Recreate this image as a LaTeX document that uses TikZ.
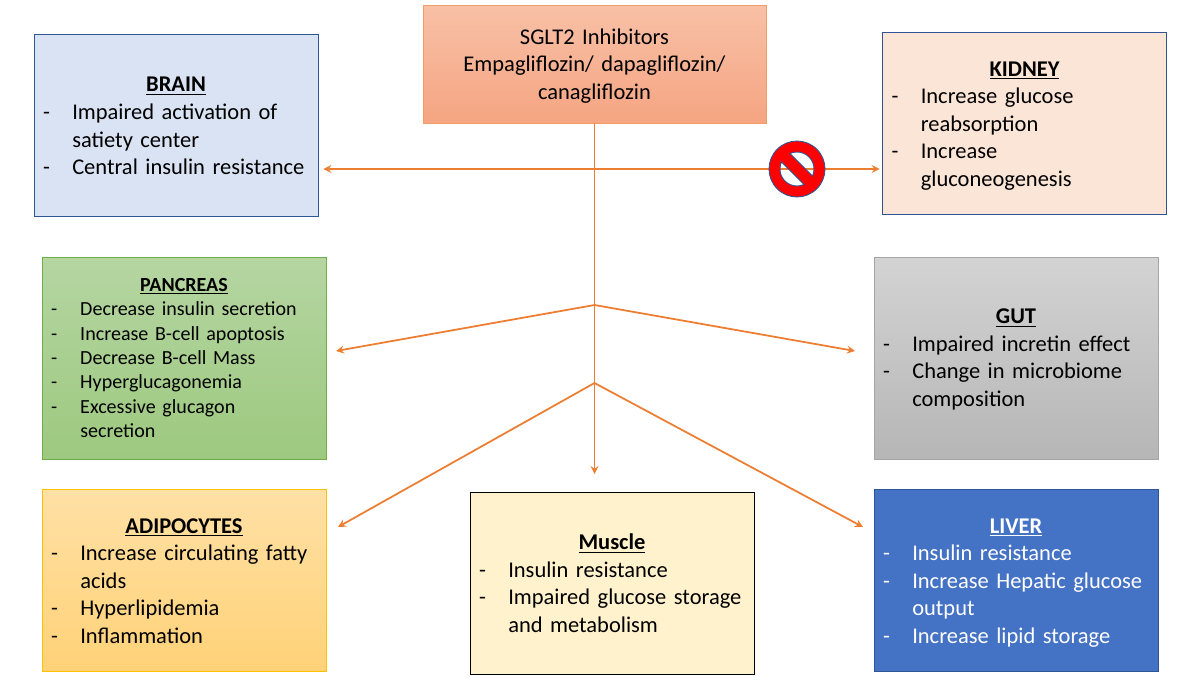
\documentclass[tikz,border=0pt]{standalone}
\usepackage{fontspec}
\setmainfont{Carlito}
\usepackage{tikz}
\newcommand{\organhead}[1]{{\centering\textbf{\underline{#1}}\par}}
\newcommand{\organitem}[1]{\par\hangindent=0.585cm\hangafter=1\noindent\makebox[0.585cm][l]{-}#1\par}
\newcommand{\pushdown}[2]{\vbox{\vskip#1\relax #2}}
\definecolor{arrowcol}{HTML}{ED7D31}
\definecolor{signblue}{HTML}{2F5597}
\tikzset{
  organ/.style={draw,rectangle,line width=0.5pt,minimum width=5.68cm,minimum height=3.64cm,
    inner xsep=0.18cm,inner ysep=0pt,text width=5.32cm,align=left,font=\fontsize{12.8}{15.7}\selectfont},
  link/.style={draw=arrowcol,line width=1pt}
}
\begin{document}
\begin{tikzpicture}[>=stealth, x=0.02cm, y=-0.02cm]
\useasboundingbox (0,0) rectangle (1200,677);
% top box and organ boxes
\node[draw=arrowcol!75,line width=0.5pt,rectangle,top color={rgb,255:red,248;green,192;blue,166},bottom color={rgb,255:red,245;green,165;blue,130},minimum width=6.86cm,minimum height=2.36cm,text width=6.5cm,align=center,font=\fontsize{12.8}{15.7}\selectfont] (sglt) at (594.5,64) {\pushdown{0.08cm}{SGLT2 Inhibitors\par Empagliflozin/ dapagliflozin/\par canagliflozin}};
\node[organ,draw=signblue,fill={rgb,255:red,218;green,227;blue,243}] (brain) at (176,125) {\pushdown{0.04cm}{\organhead{BRAIN}\organitem{Impaired activation of\newline satiety center}\organitem{Central insulin resistance}}};
\node[organ,draw=signblue,fill={rgb,255:red,251;green,229;blue,214}] (kidney) at (1024.5,123) {\pushdown{0.12cm}{\organhead{KIDNEY}\organitem{Increase glucose\newline reabsorption}\organitem{Increase\newline gluconeogenesis}}};
\node[organ,minimum height=4.04cm,draw={rgb,255:red,112;green,173;blue,71},top color={rgb,255:red,181;green,213;blue,162},bottom color={rgb,255:red,157;green,201;blue,127},font=\fontsize{11.4}{13.9}\selectfont] (pancreas) at (184,358) {\organhead{PANCREAS}\organitem{Decrease insulin secretion}\organitem{Increase B-cell apoptosis}\organitem{Decrease B-cell Mass}\organitem{Hyperglucagonemia}\organitem{Excessive glucagon\newline secretion}};
\node[organ,minimum height=4.04cm,draw={rgb,255:red,165;green,165;blue,165},top color={rgb,255:red,211;green,211;blue,211},bottom color={rgb,255:red,182;green,182;blue,182}] (gut) at (1016,358) {\pushdown{0.06cm}{\organhead{GUT}\organitem{Impaired incretin effect}\organitem{Change in microbiome\newline composition}}};
\node[organ,draw={rgb,255:red,255;green,192;blue,0},top color={rgb,255:red,255;green,224;blue,165},bottom color={rgb,255:red,255;green,210;blue,120}] (adipo) at (184,580) {\pushdown{0.04cm}{\organhead{ADIPOCYTES}\organitem{Increase circulating fatty\newline acids}\organitem{Hyperlipidemia}\organitem{Inflammation}}};
\node[organ,draw=black,fill={rgb,255:red,255;green,242;blue,204}] (muscle) at (612,583) {\organhead{Muscle}\organitem{Insulin resistance}\organitem{Impaired glucose storage\newline and metabolism}};
\node[organ,draw=signblue,fill={rgb,255:red,68;green,114;blue,196},text=white] (liver) at (1016,580) {\pushdown{0.12cm}{\organhead{LIVER}\organitem{Insulin resistance}\organitem{Increase Hepatic glucose\newline output}\organitem{Increase lipid storage}}};
% connectors
\coordinate (hubtop) at (sglt.south |- 0,169);
\coordinate (hubmid) at (sglt.south |- 0,305);
\coordinate (hublow) at (sglt.south |- 0,383);
\coordinate (endpan) at (336,351);
\coordinate (endgut) at (855,351);
\coordinate (endadi) at (338,527);
\coordinate (endliv) at (863,527);
\coordinate (endmus) at (sglt.south |- 0,474);
\draw[link,->] (sglt.south) -- (endmus);
\draw[link,->,shorten >=0.1cm] (hubtop) -- (hubtop -| brain.east);
\draw[link,->,shorten >=0.05cm] (hubtop) -- (hubtop -| kidney.west);
\draw[link,->] (hubmid) -- (endpan);
\draw[link,->] (hubmid) -- (endgut);
\draw[link,->] (hublow) -- (endadi);
\draw[link,->] (hublow) -- (endliv);
% stop sign over the kidney line
\begin{scope}[shift={(797,169)},x=1cm,y=1cm,rotate=-45]
\fill[red,draw=signblue,line width=0.5pt,even odd rule] (0,0) circle (0.56)
  (20.7:0.34) arc (20.7:159.3:0.34) -- cycle
  (200.7:0.34) arc (200.7:339.3:0.34) -- cycle;
\end{scope}
\end{tikzpicture}
\end{document}
